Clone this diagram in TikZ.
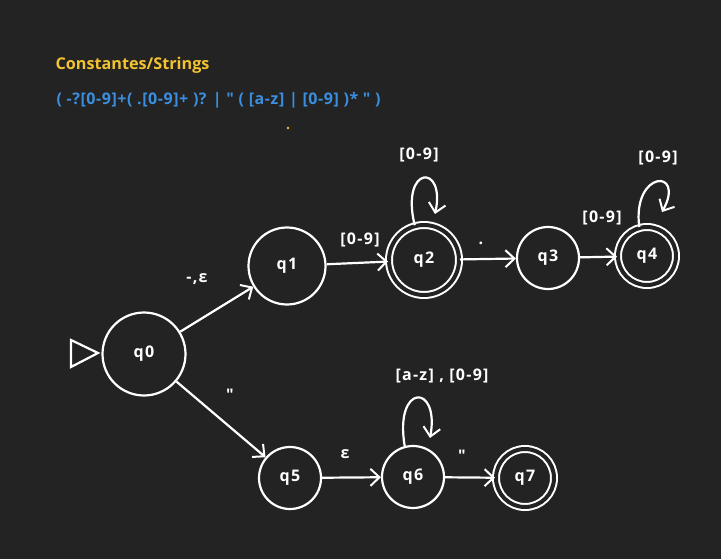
\documentclass[tikz,border=0pt]{standalone}
\usepackage{fontspec}
\setmainfont{Open Sans}[Ligatures=TeXOff]
\newfontfamily\lblfont{Open Sans}[Ligatures=TeXOff,LetterSpace=8]
\newfontfamily\rgxfont{Open Sans}[Ligatures=TeXOff,LetterSpace=3.5]
\usetikzlibrary{arrows.meta}
\definecolor{bgc}{HTML}{232323}
\definecolor{ttl}{HTML}{F2C230}
\definecolor{rgx}{HTML}{3A8FE0}
\begin{document}
\begin{tikzpicture}[x=1pt,y=-1pt,
  st/.style={circle,draw=white,line width=2.2pt,minimum size=#1,inner sep=0pt,text=white,font=\lblfont\fontsize{16}{19}\selectfont\bfseries},
  acc/.style={double=bgc,double distance=4pt,line width=2pt},
  lbl/.style={text=white,font=\lblfont\fontsize{16}{19}\selectfont\bfseries},
  ed/.style={draw=white,line width=2.2pt,-{Straight Barb[length=9pt,width=17pt,line width=2pt]}},
]
\fill[bgc] (0,0) rectangle (721,559);
\useasboundingbox (0,0) rectangle (721,559);
\node[anchor=west,text=ttl,font=\fontsize{16.2}{19}\selectfont\bfseries] (title) at (52,65) {Constantes/Strings};
\node[anchor=west,text=rgx,font=\rgxfont\fontsize{16}{19}\selectfont\bfseries] (regex) at (53,100) {( -?[0-9]+( .[0-9]+ )? | " ( [a-z] | [0-9] )* " )};
\fill[ttl] (288,128) circle (1.3);

\node[st=83pt] (q0) at (144,354) {q0};
\node[st=77pt] (q1) at (287,266) {q1};
\node[st=70pt,acc] (q2) at (424,260) {q2};
\node[st=62pt] (q3) at (548,258) {q3};
\node[st=58pt,acc] (q4) at (647,256) {q4};
\node[st=62pt] (q5) at (290,478) {q5};
\node[st=62pt] (q6) at (413,477) {q6};
\node[st=58pt,acc] (q7) at (525,478) {q7};

\coordinate (s1) at (71,340);
\coordinate (s2) at (71,367);
\coordinate (s3) at (98,353);
\draw[white,line width=2.2pt,line join=miter] (s1) -- (s3) -- (s2) -- cycle;

\draw[ed] (q0) -- (q1);
\draw[ed] (q0) -- (q5);
\draw[ed] (q1) -- (q2);
\draw[ed] (q2) -- (q3);
\draw[ed] (q3) -- (q4);
\draw[ed] (q5) -- (q6);
\draw[ed] (q6) -- (q7);

\coordinate (l2) at (435,214);
\coordinate (l4) at (662,212);
\coordinate (l6) at (430,438);
\draw[ed] (q2.105) .. controls (400,165) and (446,163) .. (l2);
\draw[ed] (q4.105) .. controls (632,170) and (686,168) .. (l4);
\draw[ed] (q6.105) .. controls (394,383) and (440,383) .. (l6);

\node[lbl] (a) at (197,279) {-,ε};
\node[lbl] (b) at (230,395) {"};
\node[lbl] (c) at (360,240) {[0-9]};
\node[lbl] (d) at (481,243) {.};
\node[lbl] (e) at (602,218) {[0-9]};
\node[lbl] (f) at (419,155) {[0-9]};
\node[lbl] (g) at (658,158) {[0-9]};
\node[lbl] (h) at (442,376) {[a-z] , [0-9]};
\node[lbl] (i) at (345,454) {ε};
\node[lbl] (j) at (462,456) {"};
\end{tikzpicture}
\end{document}
